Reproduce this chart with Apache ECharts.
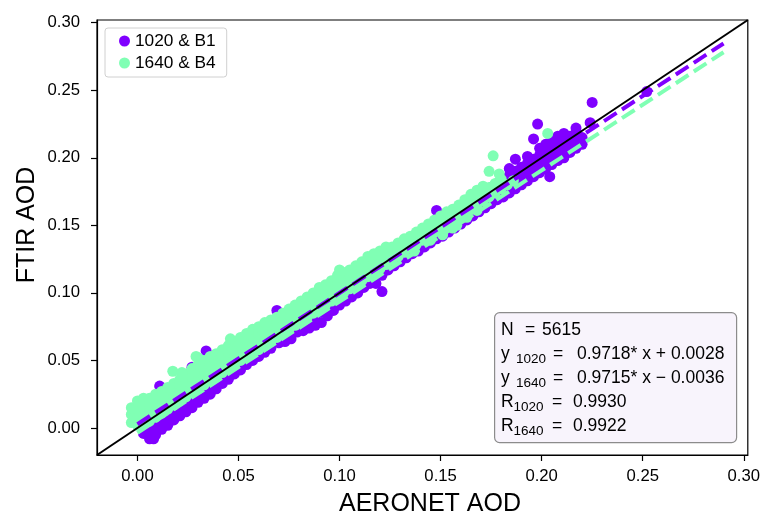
<!DOCTYPE html>
<html>
<head>
<meta charset="utf-8">
<script src="https://cdn.jsdelivr.net/npm/echarts@6/dist/echarts.min.js"></script>
<style>html,body{margin:0;padding:0;background:#fff}#c{width:763px;height:517px}</style>
</head>
<body>
<div id="c"></div>
<script>
// ---- data ----
const seriesNames = ['1020 & B1', '1640 & B4'];
const axisRange = [-0.02, 0.302];
const tickValues = [0, 0.05, 0.10, 0.15, 0.20, 0.25, 0.30];
const fitSlope = [0.9718, 0.9715];
const fitIntercept = [0.0028, -0.0036];
const fitXRange = [0, 0.29];
const statN = 5615;
const statR = [0.9930, 0.9922];
const statLabels = ['1020', '1640'];

const purple = [
[0.003,-0.004],[0.003,0.003],[0.006,-0.008],[0.006,-0.002],[0.006,0.005],[0.008,-0.008],
[0.009,-0.005],[0.009,0.001],[0.009,0.008],[0.012,-0.001],[0.012,0.004],[0.012,0.010],
[0.015,0.002],[0.015,0.008],[0.015,0.014],[0.018,0.006],[0.018,0.011],[0.018,0.017],
[0.021,0.009],[0.021,0.014],[0.021,0.020],[0.024,0.012],[0.024,0.018],[0.024,0.023],
[0.027,0.015],[0.027,0.021],[0.027,0.026],[0.030,0.019],[0.030,0.024],[0.030,0.030],
[0.033,0.022],[0.033,0.027],[0.033,0.033],[0.036,0.025],[0.036,0.031],[0.036,0.036],
[0.039,0.029],[0.039,0.034],[0.039,0.040],[0.042,0.033],[0.042,0.038],[0.042,0.043],
[0.045,0.036],[0.045,0.041],[0.045,0.047],[0.048,0.040],[0.048,0.045],[0.048,0.050],
[0.051,0.043],[0.051,0.048],[0.051,0.053],[0.054,0.047],[0.054,0.051],[0.054,0.057],
[0.057,0.050],[0.057,0.055],[0.057,0.060],[0.060,0.053],[0.060,0.058],[0.060,0.063],
[0.063,0.056],[0.063,0.061],[0.063,0.066],[0.066,0.059],[0.066,0.064],[0.066,0.069],
[0.070,0.063],[0.070,0.068],[0.070,0.073],
[0.011,0.031],[0.027,0.045],[0.034,0.057],[0.069,0.087],
[0.073,0.064],[0.073,0.070],[0.073,0.075],[0.076,0.066],[0.076,0.072],[0.076,0.078],
[0.079,0.071],[0.079,0.076],[0.079,0.081],[0.082,0.072],[0.082,0.078],[0.082,0.084],
[0.085,0.074],[0.085,0.080],[0.085,0.086],[0.088,0.076],[0.088,0.083],[0.088,0.089],
[0.091,0.078],[0.091,0.086],[0.091,0.092],[0.094,0.083],[0.094,0.089],[0.094,0.095],
[0.097,0.087],[0.097,0.092],[0.097,0.098],[0.100,0.091],[0.100,0.095],[0.100,0.101],
[0.103,0.094],[0.103,0.099],[0.103,0.104],[0.106,0.097],[0.106,0.102],[0.106,0.107],
[0.109,0.100],[0.109,0.105],[0.109,0.110],[0.112,0.104],[0.112,0.109],[0.112,0.113],
[0.115,0.107],[0.115,0.112],[0.115,0.116],[0.118,0.107],[0.118,0.114],[0.118,0.119],
[0.121,0.101],[0.121,0.113],[0.121,0.118],[0.121,0.122],
[0.124,0.117],[0.124,0.122],[0.124,0.126],[0.127,0.120],[0.127,0.125],[0.127,0.129],
[0.130,0.123],[0.130,0.128],[0.130,0.132],[0.133,0.126],[0.133,0.131],[0.133,0.135],
[0.136,0.129],[0.136,0.134],[0.136,0.138],[0.139,0.131],[0.139,0.137],[0.139,0.141],
[0.142,0.134],[0.142,0.140],[0.142,0.144],[0.145,0.137],[0.145,0.142],[0.145,0.147],
[0.148,0.140],[0.148,0.145],[0.148,0.150],[0.148,0.161],
[0.151,0.142],[0.151,0.148],[0.151,0.153],[0.154,0.145],[0.154,0.151],[0.154,0.156],
[0.157,0.148],[0.157,0.154],[0.157,0.159],[0.160,0.151],[0.160,0.157],[0.160,0.162],
[0.163,0.154],[0.163,0.160],[0.163,0.165],[0.166,0.157],[0.166,0.163],[0.166,0.168],
[0.169,0.160],[0.169,0.166],[0.169,0.171],[0.172,0.163],[0.172,0.169],[0.172,0.175],
[0.175,0.166],[0.175,0.172],[0.175,0.178],[0.178,0.169],[0.178,0.175],[0.178,0.181],
[0.181,0.171],[0.181,0.178],[0.181,0.184],[0.184,0.174],[0.184,0.181],[0.184,0.187],[0.184,0.192],
[0.187,0.177],[0.187,0.184],[0.187,0.190],[0.187,0.199],[0.190,0.180],[0.190,0.187],[0.190,0.193],
[0.193,0.183],[0.193,0.190],[0.193,0.196],[0.193,0.201],[0.196,0.186],[0.196,0.192],[0.196,0.199],[0.196,0.214],
[0.198,0.225],[0.199,0.189],[0.199,0.195],[0.199,0.202],[0.199,0.207],
[0.202,0.192],[0.202,0.198],[0.202,0.205],[0.202,0.210],[0.204,0.186],
[0.205,0.195],[0.205,0.201],[0.205,0.208],[0.205,0.213],[0.208,0.198],[0.208,0.204],[0.208,0.211],[0.208,0.216],
[0.211,0.200],[0.211,0.207],[0.211,0.213],[0.211,0.218],[0.214,0.204],[0.214,0.210],[0.214,0.216],
[0.217,0.207],[0.217,0.213],[0.217,0.219],[0.217,0.222],[0.220,0.210],[0.220,0.215],
[0.224,0.226],[0.225,0.241],[0.252,0.249]
];

const green = [
[-0.003,0.004],[-0.003,0.010],[-0.003,0.015],[0.000,0.002],[0.000,0.008],[0.000,0.014],[0.000,0.020],
[0.003,0.003],[0.003,0.009],[0.003,0.015],[0.003,0.022],[0.006,0.005],[0.006,0.011],[0.006,0.017],[0.006,0.022],
[0.009,0.008],[0.009,0.014],[0.009,0.020],[0.009,0.025],[0.012,0.011],[0.012,0.017],[0.012,0.023],[0.012,0.027],
[0.015,0.014],[0.015,0.020],[0.015,0.026],[0.015,0.030],[0.0175,0.042],
[0.018,0.017],[0.018,0.023],[0.018,0.029],[0.018,0.033],[0.021,0.020],[0.021,0.026],[0.021,0.032],[0.021,0.036],
[0.024,0.023],[0.024,0.029],[0.024,0.035],[0.024,0.040],[0.027,0.026],[0.027,0.032],[0.027,0.038],[0.027,0.044],
[0.029,0.053],[0.030,0.029],[0.030,0.035],[0.030,0.041],[0.030,0.047],[0.030,0.052],
[0.033,0.032],[0.033,0.038],[0.033,0.044],[0.033,0.050],[0.036,0.035],[0.036,0.041],[0.036,0.047],[0.036,0.053],
[0.039,0.038],[0.039,0.044],[0.039,0.050],[0.039,0.055],[0.042,0.041],[0.042,0.047],[0.042,0.053],[0.042,0.058],
[0.045,0.044],[0.045,0.050],[0.045,0.056],[0.045,0.061],[0.048,0.047],[0.048,0.053],[0.048,0.059],[0.048,0.064],
[0.051,0.050],[0.051,0.056],[0.051,0.062],[0.051,0.067],[0.054,0.053],[0.054,0.059],[0.054,0.065],[0.054,0.070],
[0.057,0.056],[0.057,0.062],[0.057,0.068],[0.057,0.073],[0.060,0.058],[0.060,0.064],[0.060,0.070],[0.060,0.075],
[0.063,0.061],[0.063,0.067],[0.063,0.073],[0.063,0.078],[0.066,0.064],[0.066,0.070],[0.066,0.076],[0.066,0.080],
[0.069,0.067],[0.069,0.073],[0.069,0.078],[0.069,0.082],[0.072,0.070],[0.072,0.076],[0.072,0.081],[0.072,0.085],
[0.075,0.073],[0.075,0.079],[0.075,0.084],[0.075,0.088],[0.078,0.076],[0.078,0.082],[0.078,0.087],[0.078,0.091],
[0.081,0.079],[0.081,0.085],[0.081,0.090],[0.081,0.094],[0.084,0.082],[0.084,0.088],[0.084,0.093],[0.084,0.097],
[0.087,0.085],[0.087,0.091],[0.087,0.096],[0.087,0.100],[0.090,0.088],[0.090,0.094],[0.090,0.099],[0.090,0.104],
[0.093,0.091],[0.093,0.097],[0.093,0.102],[0.093,0.106],[0.096,0.094],[0.096,0.100],[0.096,0.105],[0.096,0.109],
[0.099,0.097],[0.099,0.103],[0.099,0.108],[0.099,0.113],[0.102,0.100],[0.102,0.105],[0.102,0.110],[0.102,0.115],
[0.105,0.103],[0.105,0.108],[0.105,0.113],[0.105,0.117],[0.108,0.106],[0.108,0.111],[0.108,0.116],[0.108,0.120],
[0.111,0.109],[0.111,0.114],[0.111,0.119],[0.111,0.123],[0.114,0.112],[0.114,0.117],[0.114,0.122],[0.114,0.127],
[0.117,0.115],[0.117,0.120],[0.117,0.125],[0.117,0.129],[0.120,0.118],[0.120,0.123],[0.120,0.128],[0.120,0.131],
[0.123,0.121],[0.123,0.126],[0.123,0.131],[0.123,0.134],[0.126,0.124],[0.126,0.129],[0.126,0.134],
[0.129,0.127],[0.129,0.132],[0.129,0.137],[0.132,0.130],[0.132,0.135],[0.132,0.140],
[0.135,0.133],[0.135,0.138],[0.135,0.142],[0.138,0.136],[0.138,0.141],[0.138,0.145],
[0.141,0.139],[0.141,0.144],[0.141,0.148],[0.144,0.142],[0.144,0.147],[0.144,0.151],
[0.147,0.145],[0.147,0.150],[0.147,0.154],[0.150,0.147],[0.150,0.152],[0.150,0.157],
[0.151,0.143],[0.153,0.150],[0.153,0.155],[0.153,0.160],[0.156,0.148],[0.156,0.153],[0.156,0.158],[0.156,0.162],
[0.158,0.150],[0.159,0.156],[0.159,0.161],[0.159,0.165],[0.162,0.159],[0.162,0.164],[0.162,0.169],
[0.165,0.162],[0.165,0.167],[0.165,0.173],[0.168,0.165],[0.168,0.171],[0.168,0.176],
[0.171,0.168],[0.171,0.174],[0.171,0.179],[0.174,0.171],[0.174,0.178],[0.174,0.190],
[0.176,0.2015],[0.177,0.174],[0.177,0.181],[0.179,0.188],[0.180,0.177],[0.180,0.184],
[0.183,0.180],[0.186,0.183],[0.203,0.218],
[0.137,0.131],[0.145,0.139],[0.163,0.156],[0.168,0.161],[0.022,0.041],[0.046,0.066],[0.100,0.117]
];

// ---- chart ----
const FONT = 'Liberation Sans, Arial, sans-serif';
const colors = ['#8000ff', '#80ffb4'];
const fitLine = i => fitXRange.map(x => [x, fitSlope[i] * x + fitIntercept[i]]);
const oneToOne = axisRange.map(v => [v, v]);

function statText() {
  const f = v => v.toFixed(4);
  const sgn = v => (v < 0 ? '\u2212 ' : '+ ') + Math.abs(v).toFixed(4);
  const lines = [
    '{nA|N}{nE|=}{t|' + statN + '}',
    '{yA|y}{sY|' + statLabels[0] + '}{yE|=}{t|' + f(fitSlope[0]) + '* x ' + sgn(fitIntercept[0]) + '}',
    '{yA|y}{sY|' + statLabels[1] + '}{yE|=}{t|' + f(fitSlope[1]) + '* x ' + sgn(fitIntercept[1]) + '}',
    '{rA|R}{sR|' + statLabels[0] + '}{rE|=}{t|' + f(statR[0]) + '}',
    '{rA|R}{sR|' + statLabels[1] + '}{rE|=}{t|' + f(statR[1]) + '}'
  ];
  return lines.join('\n');
}
const main = w => Object.assign({ fontSize: 17.5, fontFamily: FONT, fill: '#000', lineHeight: 24, verticalAlign: 'middle' }, w ? { width: w } : {});
const sub = w => ({ fontSize: 13.5, fontFamily: FONT, fill: '#000', lineHeight: 16, verticalAlign: 'bottom', width: w });

const axisCommon = {
  type: 'value', min: axisRange[0], max: axisRange[1],
  axisLine: { show: true, onZero: false, lineStyle: { color: '#000', width: 1.2 } },
  axisTick: { show: true, length: 6, customValues: tickValues, lineStyle: { color: '#000', width: 1.2 } },
  splitLine: { show: false },
};

const chart = echarts.init(document.getElementById('c'), null, { renderer: 'canvas' });
chart.setOption({
  animation: false,
  backgroundColor: '#fff',
  grid: { left: 97, right: 15, top: 20, bottom: 62, show: true, borderColor: '#000', borderWidth: 1.2, backgroundColor: 'transparent' },
  xAxis: Object.assign({}, axisCommon, {
    axisLabel: { customValues: tickValues, margin: 13, fontSize: 16.7, color: '#000', fontFamily: FONT, formatter: v => v.toFixed(2) }
  }),
  yAxis: Object.assign({}, axisCommon, {
    axisLabel: { customValues: tickValues, margin: 17, fontSize: 16.7, color: '#000', fontFamily: FONT, formatter: v => v.toFixed(2) }
  }),
  legend: {
    data: seriesNames, orient: 'vertical', left: 105, top: 28,
    icon: 'circle', itemWidth: 11, itemHeight: 11, itemGap: 4,
    padding: [4, 11, 5, 14],
    backgroundColor: '#fff', borderColor: '#d0d0d0', borderWidth: 1, borderRadius: 3,
    textStyle: { fontSize: 17.3, color: '#000', fontFamily: FONT, lineHeight: 18 }
  },
  series: [
    { name: seriesNames[0], type: 'scatter', data: purple, symbolSize: 11, itemStyle: { color: colors[0], opacity: 1 } },
    { name: seriesNames[1], type: 'scatter', data: green, symbolSize: 11, itemStyle: { color: colors[1], opacity: 1 } },
    { type: 'line', data: fitLine(0), symbol: 'none', lineStyle: { color: colors[0], width: 4, type: [15, 6.4] } },
    { type: 'line', data: fitLine(1), symbol: 'none', lineStyle: { color: colors[1], width: 4, type: [15, 6.4] } },
    { type: 'line', data: oneToOne, symbol: 'none', lineStyle: { color: '#000', width: 2 } }
  ],
  graphic: [
    { type: 'rect', left: 494, top: 312, z: 100,
      shape: { width: 242, height: 130, r: 5 },
      style: { fill: '#f8f4fc', stroke: '#8c8c8c', lineWidth: 1.2 } },
    { type: 'text', left: 501, top: 321, z: 101,
      style: {
        text: statText(),
        rich: {
          t: main(), nA: main(24), nE: main(17), yA: main(15), yE: main(24), rA: main(12.6), rE: main(21),
          sY: sub(37), sR: sub(38.4)
        }
      } },
    { type: 'text', x: 430, y: 504, z: 100,
      style: { text: 'AERONET AOD', font: '25px ' + FONT, fill: '#000', align: 'center', verticalAlign: 'middle' } },
    { type: 'text', x: 27, y: 225, rotation: Math.PI / 2, z: 100,
      style: { text: 'FTIR AOD', font: '25px ' + FONT, fill: '#000', align: 'center', verticalAlign: 'middle' } }
  ]
});
</script>
</body>
</html>
